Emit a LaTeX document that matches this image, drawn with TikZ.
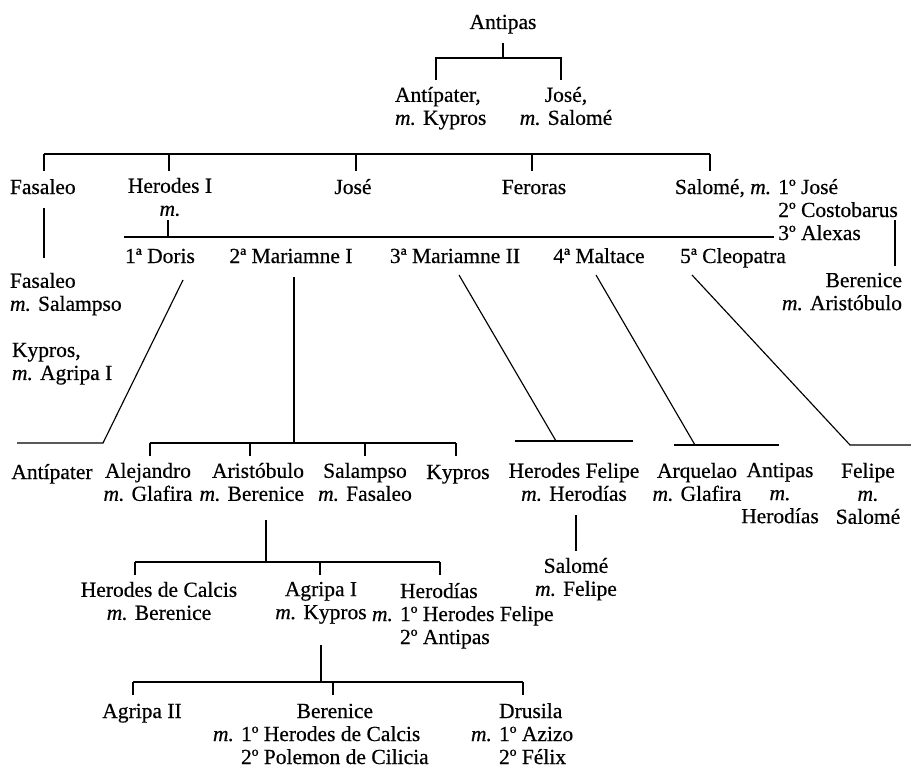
\documentclass[tikz,border=0pt]{standalone}
\usepackage{fontspec}
\setmainfont{Liberation Serif}[FakeBold=0.5]
\newcommand{\spouse}{\textit{m.}}

\begin{document}
\begin{tikzpicture}[
  x=1pt, y=-1pt,
  font=\fontsize{21.5}{23}\selectfont,
  base/.style={inner sep=0pt, outer sep=7pt, yshift=17.1pt, execute at begin node=\strut},
  lbl/.style={base, anchor=north, align=center},
  lblw/.style={base, anchor=north west, xshift=-7pt, align=left},
  lble/.style={base, anchor=north east, xshift=7pt, align=right},
  tabw/.style={base, anchor=north west, xshift=-7pt},
  line/.style={line width=1.15pt}
]
\useasboundingbox (0,0) rectangle (911,768);
%% generation of Antipas
\node[lbl]  (antipas)   at (503,23)  {Antipas};
\node[lblw] (antipater) at (395,97)  {Antípater,\\\spouse{} Kypros};
\node[lbl]  (jose_a)    at (566,97)  {José,\\\spouse{} Salomé};
%% children of Antípater
\node[lblw] (fasaleo)   at (10,188)  {Fasaleo};
\node[lbl]  (herodes)   at (170,188) {Herodes I\\\spouse};
\node[lbl]  (jose_b)    at (353,188) {José};
\node[lbl]  (feroras)   at (534,188) {Feroras};
\node[tabw] (salome)    at (675,188)
  {\begin{tabular}[t]{@{}r@{ }l@{}}Salomé, \spouse & 1º José\\ & 2º Costobarus\\ & 3º Alexas\end{tabular}};
%% wives of Herodes I
\node[lbl]  (doris)     at (160,257) {1ª Doris};
\node[lbl]  (mariamne1) at (291,257) {2ª Mariamne I};
\node[lbl]  (mariamne2) at (455,257) {3ª Mariamne II};
\node[lbl]  (maltace)   at (599,257) {4ª Maltace};
\node[lbl]  (cleopatra) at (733,257) {5ª Cleopatra};
%% side branches
\node[lblw] (fasaleo_b)  at (10,283)  {Fasaleo\\\spouse{} Salampso};
\node[lble] (berenice_a) at (902,283) {Berenice\\\spouse{} Aristóbulo};
\node[lblw] (kypros_a)   at (12,353)  {Kypros,\\\spouse{} Agripa I};
%% children of Herodes I
\node[lbl]  (antipater_b) at (52,473)  {Antípater};
\node[lbl]  (alejandro)   at (148,473) {Alejandro\\\spouse{} Glafira};
\node[lble] (aristobulo)  at (304,473) {Aristóbulo\\\spouse{} Berenice};
\node[lbl]  (salampso)    at (365,473) {Salampso\\\spouse{} Fasaleo};
\node[lbl]  (kypros_b)    at (458,473) {Kypros};
\node[lbl]  (herfelipe)   at (574,473) {Herodes Felipe\\\spouse{} Herodías};
\node[lbl]  (arquelao)    at (697,473) {Arquelao\\\spouse{} Glafira};
\node[lbl]  (antipas_b)   at (780,473) {Antipas\\\spouse\\Herodías};
\node[lbl]  (felipe)      at (868,473) {Felipe\\\spouse\\Salomé};
%% grandchildren
\node[lbl]  (salome_b)  at (576,568) {Salomé\\\spouse{} Felipe};
\node[lbl]  (hercalcis) at (159,592) {Herodes de Calcis\\\spouse{} Berenice};
\node[lbl]  (agripa1)   at (321,592) {Agripa I\\\spouse{} Kypros};
\node[tabw] (herodias)  at (372,592)
  {\begin{tabular}[t]{@{}r@{ }l@{}} & Herodías\\ \spouse & 1º Herodes Felipe\\ & 2º Antipas\end{tabular}};
%% children of Agripa I
\node[lbl]  (agripa2)    at (142,712) {Agripa II};
\node[tabw] (berenice_b) at (213,712)
  {\begin{tabular}[t]{@{}r@{ }l@{}} & \multicolumn{1}{c}{Berenice}\\ \spouse & 1º Herodes de Calcis\\ & 2º Polemon de Cilicia\end{tabular}};
\node[tabw] (drusila)    at (471,712)
  {\begin{tabular}[t]{@{}r@{ }l@{}} & Drusila\\ \spouse & 1º Azizo\\ & 2º Félix\end{tabular}};

%% junction points
\coordinate (a_l) at (436,58);   \coordinate (a_r) at (561,58);
\coordinate (g_l) at (44,154);   \coordinate (g_r) at (710,154);
\coordinate (h_t) at (168,220);  \coordinate (h_l) at (124,237);  \coordinate (h_r) at (774,237);
\coordinate (s_t) at (895,220);
\coordinate (d_t) at (183,280);  \coordinate (d_b) at (103,443);  \coordinate (d_e) at (17,443);
\coordinate (m_t) at (294,277);  \coordinate (m_l) at (150,443);  \coordinate (m_r) at (456,443);
\coordinate (n_t) at (459,275);  \coordinate (n_b) at (556,441);
\coordinate (n_l) at (515,441);  \coordinate (n_r) at (633,441);
\coordinate (t_t) at (596,275);  \coordinate (t_b) at (695,445);
\coordinate (t_l) at (674,445);  \coordinate (t_r) at (779,445);
\coordinate (c_t) at (692,275);  \coordinate (c_b) at (850,445);  \coordinate (c_e) at (911,445);
\coordinate (r_t) at (266,520);  \coordinate (r_l) at (135,562);  \coordinate (r_r) at (440,562);
\coordinate (f_t) at (576,515);
\coordinate (p_t) at (321,645);  \coordinate (p_l) at (133,682);  \coordinate (p_r) at (523,682);

\begin{scope}[line]
%% Antipas
\draw (antipas.south) -- (antipas.south |- a_l);
\draw (a_l |- antipater.north) -- (a_l) -- (a_r) -- (a_r |- jose_a.north);
%% sons and daughter of Antípater
\draw (g_l) -- (g_r);
\foreach \n/\x in {fasaleo/44, herodes/169, jose_b/356, feroras/532, salome/710}
  \draw (\x,154) coordinate (drop) -- (drop |- \n.north);
\draw[shorten >=8pt] (fasaleo.south -| g_l) -- (g_l |- fasaleo_b.north);
\draw (s_t) -- (s_t |- berenice_a.north);
%% marriages of Herodes I
\draw (h_t) -- (h_t |- h_l);
\draw (h_l) -- (h_r);
\draw (d_t) -- (d_b) -- (d_e);
\draw (m_t) -- (m_t |- m_l);
\draw (m_l) -- (m_r);
\foreach \n/\x in {alejandro/150, aristobulo/250, salampso/365, kypros_b/456}
  \draw (\x,443) coordinate (drop) -- (drop |- \n.north);
\draw (n_t) -- (n_b);
\draw (n_l) -- (n_r);
\draw (t_t) -- (t_b);
\draw (t_l) -- (t_r);
\draw (c_t) -- (c_b) -- (c_e);
%% Aristóbulo and Herodes Felipe
\draw (r_t) -- (r_t |- r_l);
\draw (r_l) -- (r_r);
\foreach \n/\x in {hercalcis/135, agripa1/320, herodias/440}
  \draw (\x,562) coordinate (drop) -- (drop |- \n.north);
\draw (f_t) -- (f_t |- salome_b.north);
%% Agripa I
\draw (p_t) -- (p_t |- p_l);
\draw (p_l) -- (p_r);
\foreach \n/\x in {agripa2/133, berenice_b/333, drusila/523}
  \draw (\x,682) coordinate (drop) -- (drop |- \n.north);
\end{scope}
\end{tikzpicture}
\end{document}
